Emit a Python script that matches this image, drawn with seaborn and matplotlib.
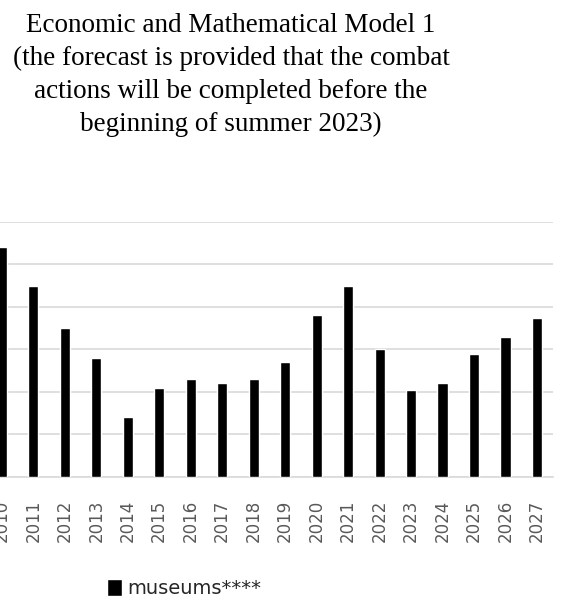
import numpy as np
import pandas as pd
import matplotlib
matplotlib.use("Agg")
import matplotlib.pyplot as plt
import seaborn as sns

# data (grid step = 20 units)
years = [str(y) for y in range(2010, 2028)]
museums = [108, 90, 70, 56, 28, 42, 46, 44, 46, 54, 76, 90, 60, 41, 44, 58, 66, 75]
y_ticks = [0, 20, 40, 60, 80, 100, 120]

title = ("Economic and Mathematical Model 1\n"
         "(the forecast is provided that the combat\n"
         "actions will be completed before the\n"
         "beginning of summer 2023)")

sns.set_theme(style="white")
plt.rcParams['font.family'] = ['DejaVu Sans']

df = pd.DataFrame({"Year": years, "Value": museums})

fig = plt.figure(figsize=(5.63, 6.04), dpi=100)
# axes slightly wider than the figure: the reference is cropped on the left
ax = fig.add_axes([-13.9 / 563, 127.3 / 604, 566.6 / 563, 254.7 / 604])

sns.barplot(data=df, x="Year", y="Value", color="black", width=0.32,
            saturation=1, label="museums****", ax=ax, zorder=3)

ax.set_ylim(0, 120)
ax.set_yticks(y_ticks)
ax.set_yticklabels([])
ax.yaxis.grid(True, color="#d9d9d9", linewidth=1.2, zorder=0)
ax.xaxis.grid(False)
for s in ["top", "right", "left"]:
    ax.spines[s].set_visible(False)
ax.spines["bottom"].set_color("#d9d9d9")
ax.spines["bottom"].set_linewidth(1.2)
ax.tick_params(axis="x", length=0, pad=16.5, labelsize=12,
               labelcolor="#595959", labelrotation=90)
ax.tick_params(axis="y", length=0)
ax.set_xlabel("")
ax.set_ylabel("")

if ax.get_legend() is not None:
    ax.get_legend().remove()
handles, labels = ax.get_legend_handles_labels()
fig.legend(handles, labels, loc="center", bbox_to_anchor=(0.327, 0.026),
           frameon=False, fontsize=14, handlelength=0.75, handleheight=1.0,
           handletextpad=0.25, borderpad=0)

fig.text(231 / 563, 1 - 13 / 604, title, ha="center", va="top",
         family="Liberation Serif", fontsize=19.5, linespacing=1.42,
         color="black")

fig.savefig("out.png", dpi=100)
